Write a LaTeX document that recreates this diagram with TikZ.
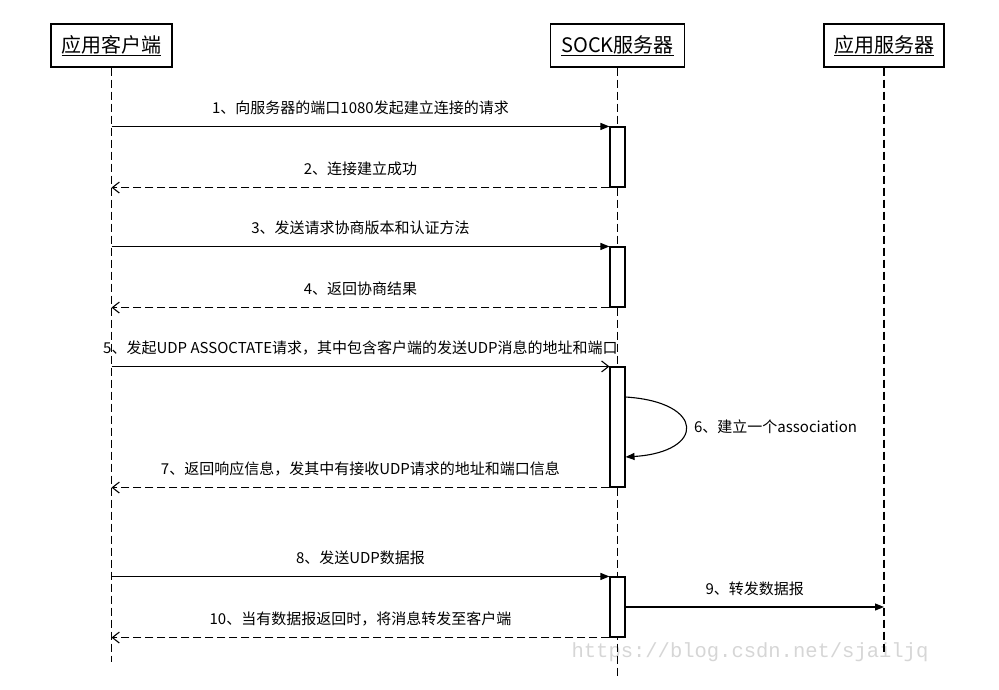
\documentclass[tikz,border=0pt]{standalone}
\usepackage{fontspec}
\setmainfont{Noto Sans CJK SC}
\newfontfamily\markfont{Liberation Mono}
\usetikzlibrary{arrows.meta}

\begin{document}
\begin{tikzpicture}[x=1pt, y=-1pt, line width=1.1pt, font=\fontsize{15}{18}\selectfont,
		actor/.style={draw, minimum height=43pt, inner sep=0pt, font=\fontsize{20}{23}\selectfont},
		act/.style={draw, fill=white, minimum width=15pt, minimum height=60pt, inner sep=0pt},
		life/.style={dash pattern=on 8pt off 4pt},
		call/.style={-{Triangle[length=9pt,width=7pt]}},
		open/.style={-{Straight Barb[length=7pt,width=11pt]}},
		reply/.style={open, dash pattern=on 8pt off 4pt},
		lbl/.style={midway, above=11pt, inner sep=0pt}]
				\useasboundingbox (0,0) rectangle (999,689);
				\node[font=\markfont\fontsize{20.5}{22}\selectfont, text=black!16, inner sep=0pt] (mark) at (750,652) {https://blog.csdn.net/sjailjq};
				\node[actor, minimum width=121pt] (client) at (111.5,45.5) {\underline{应用客户端}};
				\node[actor, minimum width=134pt] (sock) at (617.5,45.5) {\underline{SOCK服务器}};
				\node[actor, minimum width=120pt] (app) at (884,45.5) {\underline{应用服务器}};
				\coordinate (client-end) at (client.south |- 0,662);
				\coordinate (sock-end) at (sock.south |- 0,677);
				\coordinate (app-end) at (app.south |- 0,655);
				\draw[life] (client) -- (client-end);
				\draw[life] (sock) -- (sock-end);
				\draw[life] (app) -- (app-end);
				\node[act] (a1) at (sock.south |- 0,157) {};
				\node[act] (a2) at (sock.south |- 0,277) {};
				\node[act, minimum height=120pt] (a3) at (sock.south |- 0,427) {};
				\node[act] (a4) at (sock.south |- 0,607) {};
				\draw[call] (a1.north west -| client) -- (a1.north west) node[lbl] {1、向服务器的端口1080发起建立连接的请求};
				\draw[reply] (a1.south west) -- (a1.south west -| client) node[lbl] {2、连接建立成功};
				\draw[call] (a2.north west -| client) -- (a2.north west) node[lbl] {3、发送请求协商版本和认证方法};
				\draw[reply] (a2.south west) -- (a2.south west -| client) node[lbl] {4、返回协商结果};
				\draw[open] (a3.north west -| client) -- (a3.north west) node[lbl] {5、发起UDP ASSOCTATE请求，其中包含客户端的发送UDP消息的地址和端口};
				\draw[call] ([yshift=30pt]a3.east) .. controls +(80,5) and +(80,-5) .. ([yshift=-30pt]a3.east) node[midway, right=8pt, inner sep=0pt] {6、建立一个association};
				\draw[reply] (a3.south west) -- (a3.south west -| client) node[lbl] {7、返回响应信息，发其中有接收UDP请求的地址和端口信息};
				\draw[call] (a4.north west -| client) -- (a4.north west) node[lbl] {8、发送UDP数据报};
				\draw[call] (a4.east) -- (a4.east -| app) node[lbl] {9、转发数据报};
				\draw[reply] (a4.south west) -- (a4.south west -| client) node[lbl] {10、当有数据报返回时，将消息转发至客户端};
		    \end{tikzpicture}
\end{document}
